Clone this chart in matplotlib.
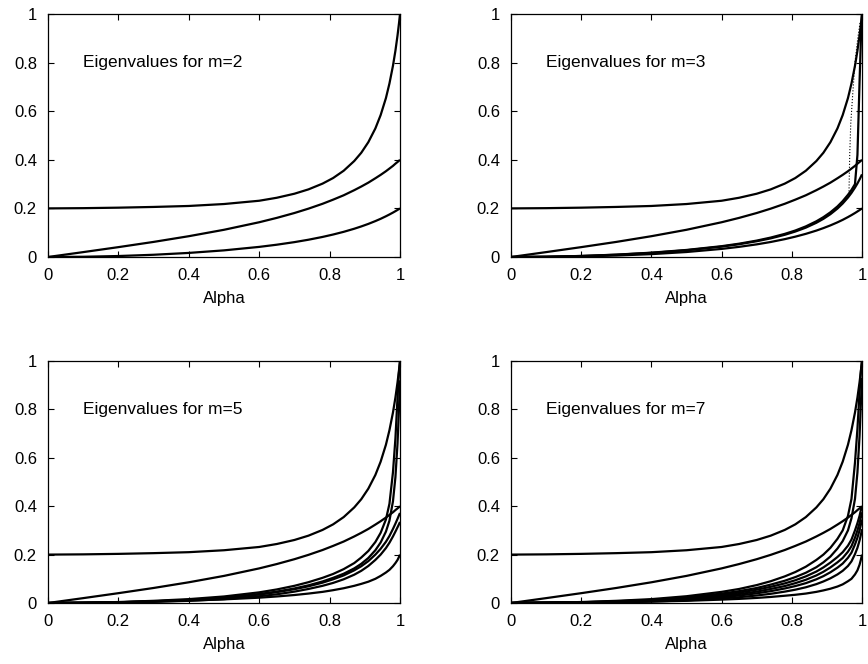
import matplotlib
matplotlib.use("Agg")
import matplotlib.pyplot as plt

plt.rcParams["font.family"] = ["Liberation Sans", "DejaVu Sans"]

# alpha grid shared by every eigenvalue curve (denser near 1)
ALPHA = [0.0, 0.1, 0.2, 0.3, 0.4, 0.5, 0.6, 0.65, 0.7, 0.74, 0.78, 0.81, 0.84,
         0.87, 0.89, 0.91, 0.93, 0.945, 0.96, 0.97, 0.98, 0.987, 0.993, 0.997, 1.0]

# curves common to all panels
TOP = [0.2, 0.201, 0.203, 0.206, 0.21, 0.218, 0.2315, 0.2438, 0.2604, 0.2783,
       0.302, 0.325, 0.355, 0.395, 0.429, 0.4725, 0.529, 0.584, 0.654, 0.714,
       0.787, 0.849, 0.912, 0.96, 1.0]
MID = [0.0, 0.0201, 0.0406, 0.0621, 0.0856, 0.112, 0.143, 0.161, 0.181, 0.199,
       0.219, 0.236, 0.254, 0.275, 0.29, 0.306, 0.324, 0.338, 0.353, 0.364,
       0.375, 0.384, 0.391, 0.396, 0.4]

# m = 2
M2_LOW = [0.0, 0.001, 0.004, 0.0092, 0.0168, 0.0273, 0.0416, 0.0506, 0.0612, 0.0711,
          0.0826, 0.0925, 0.1036, 0.1163, 0.1258, 0.1362, 0.1478, 0.1572, 0.1676,
          0.175, 0.1828, 0.1886, 0.1937, 0.1973, 0.2]

# m = 3
M3_A = [0.0, 0.001, 0.0041, 0.0093, 0.017, 0.0277, 0.0427, 0.0526, 0.0648, 0.0767,
        0.0914, 0.1048, 0.1209, 0.1409, 0.157, 0.1762, 0.1993, 0.2201, 0.2447,
        0.2638, 0.2856, 0.3027, 0.319, 0.3307, 0.34]
M3_B = [0.0, 0.001, 0.0043, 0.0097, 0.0178, 0.029, 0.0445, 0.0548, 0.0675, 0.08,
        0.0952, 0.109, 0.126, 0.147, 0.164, 0.184, 0.208, 0.23, 0.256, 0.276,
        0.3, 0.42, 0.72, 0.9, 1.0]
M3_LOW = [0.0, 0.0006, 0.0024, 0.006, 0.0118, 0.0205, 0.0333, 0.0418, 0.052, 0.0618,
          0.0735, 0.0837, 0.0953, 0.1087, 0.1189, 0.1301, 0.1426, 0.1529, 0.1643,
          0.1724, 0.181, 0.1874, 0.193, 0.197, 0.2]
# faint scattered streak near alpha = 1
M3_FAINT_X = [0.963, 0.965, 0.968, 0.974, 0.98, 0.988, 0.995]
M3_FAINT_Y = [0.27, 0.42, 0.55, 0.68, 0.8, 0.9, 0.97]

# m = 5
M5_1 = [0.0, 0.001, 0.004, 0.009, 0.016, 0.027, 0.044, 0.056, 0.071, 0.086, 0.104,
        0.12, 0.14, 0.165, 0.188, 0.215, 0.252, 0.29, 0.345, 0.41, 0.54, 0.68,
        0.85, 0.95, 1.0]
M5_2 = [0.0, 0.001, 0.003, 0.007, 0.013, 0.022, 0.037, 0.047, 0.06, 0.073, 0.089,
        0.104, 0.121, 0.143, 0.162, 0.186, 0.218, 0.25, 0.295, 0.34, 0.42, 0.52,
        0.66, 0.8, 0.92]
M5_3 = [0.0, 0.001, 0.003, 0.007, 0.012, 0.021, 0.035, 0.045, 0.057, 0.069, 0.084,
        0.098, 0.114, 0.135, 0.152, 0.173, 0.2, 0.224, 0.253, 0.277, 0.306, 0.328,
        0.348, 0.362, 0.372]
M5_4 = [0.0, 0.001, 0.002, 0.005, 0.009, 0.016, 0.028, 0.036, 0.047, 0.058, 0.071,
        0.083, 0.098, 0.117, 0.133, 0.153, 0.178, 0.2, 0.227, 0.249, 0.275, 0.295,
        0.313, 0.325, 0.335]
M5_5 = [0.0, 0.001, 0.003, 0.006, 0.01, 0.015, 0.022, 0.027, 0.033, 0.039, 0.046,
        0.053, 0.061, 0.071, 0.079, 0.088, 0.1, 0.112, 0.126, 0.137, 0.152, 0.165,
        0.178, 0.19, 0.2]

# m = 7
M7_1 = [0.0, 0.001, 0.004, 0.009, 0.016, 0.028, 0.046, 0.058, 0.074, 0.09, 0.11,
        0.128, 0.15, 0.178, 0.2, 0.228, 0.265, 0.3, 0.36, 0.43, 0.58, 0.72,
        0.87, 0.96, 1.0]
M7_2 = [0.0, 0.001, 0.003, 0.007, 0.013, 0.023, 0.039, 0.049, 0.062, 0.076, 0.092,
        0.107, 0.125, 0.148, 0.168, 0.192, 0.225, 0.256, 0.3, 0.35, 0.43, 0.54,
        0.69, 0.83, 0.93]
M7_3 = [0.0, 0.001, 0.003, 0.006, 0.011, 0.02, 0.034, 0.043, 0.055, 0.067, 0.081,
        0.094, 0.11, 0.13, 0.147, 0.167, 0.19, 0.21, 0.237, 0.262, 0.3, 0.33,
        0.36, 0.385, 0.4]
M7_4 = [0.0, 0.001, 0.002, 0.005, 0.009, 0.017, 0.029, 0.037, 0.047, 0.058, 0.07,
        0.082, 0.096, 0.114, 0.129, 0.147, 0.168, 0.186, 0.212, 0.235, 0.27, 0.3,
        0.33, 0.355, 0.375]
M7_5 = [0.0, 0.001, 0.002, 0.004, 0.008, 0.014, 0.024, 0.031, 0.04, 0.049, 0.06,
        0.07, 0.082, 0.098, 0.111, 0.127, 0.146, 0.163, 0.187, 0.208, 0.242, 0.27,
        0.3, 0.325, 0.345]
M7_6 = [0.0, 0.001, 0.002, 0.003, 0.006, 0.011, 0.019, 0.024, 0.031, 0.038, 0.047,
        0.055, 0.065, 0.078, 0.089, 0.102, 0.118, 0.133, 0.153, 0.172, 0.202, 0.228,
        0.258, 0.283, 0.305]
M7_7 = [0.0, 0.001, 0.002, 0.004, 0.006, 0.009, 0.014, 0.017, 0.021, 0.025, 0.03,
        0.034, 0.039, 0.046, 0.052, 0.059, 0.068, 0.077, 0.09, 0.1, 0.118, 0.135,
        0.158, 0.18, 0.2]

PANEL_M = [2, 3, 5, 7]
PANEL_CURVES = [
    [TOP, MID, M2_LOW],
    [TOP, MID, M3_A, M3_B, M3_LOW],
    [TOP, MID, M5_1, M5_2, M5_3, M5_4, M5_5],
    [TOP, MID, M7_1, M7_2, M7_3, M7_4, M7_5, M7_6, M7_7],
]
TICKS = [0, 0.2, 0.4, 0.6, 0.8, 1]
TICK_LABELS = ["0", "0.2", "0.4", "0.6", "0.8", "1"]

W, H = 868, 664
# axes boxes in pixels: left, top, right, bottom
BOXES = [(48, 14, 400, 257), (511, 14, 862, 257),
         (48, 361, 400, 603), (511, 361, 862, 603)]


def draw_panel(ax, m, curves):
    for ys in curves:
        ax.plot(ALPHA, ys, color="black", lw=1.6, solid_capstyle="butt")
    ax.set_xlim(0, 1)
    ax.set_ylim(0, 1)
    ax.set_xticks(TICKS)
    ax.set_xticklabels(TICK_LABELS)
    ax.set_yticks(TICKS)
    ax.set_yticklabels(TICK_LABELS)
    ax.tick_params(direction="in", length=4.5, width=0.8, top=True, right=True,
                   labelsize=12, pad=8)
    for s in ax.spines.values():
        s.set_linewidth(0.9)
    ax.set_xlabel("Alpha", fontsize=12, labelpad=6)
    ax.text(0.1, 0.8, f"Eigenvalues for m={m}", fontsize=12.5, va="center")


fig = plt.figure(figsize=(W / 100, H / 100), dpi=100)
axes = []
for (l, t, r, b), m, curves in zip(BOXES, PANEL_M, PANEL_CURVES):
    ax = fig.add_axes([l / W, 1 - b / H, (r - l) / W, (b - t) / H])
    draw_panel(ax, m, curves)
    axes.append(ax)

axes[1].plot(M3_FAINT_X, M3_FAINT_Y, color="black", lw=0.8, ls=":")

fig.savefig("out.png", dpi=100)
